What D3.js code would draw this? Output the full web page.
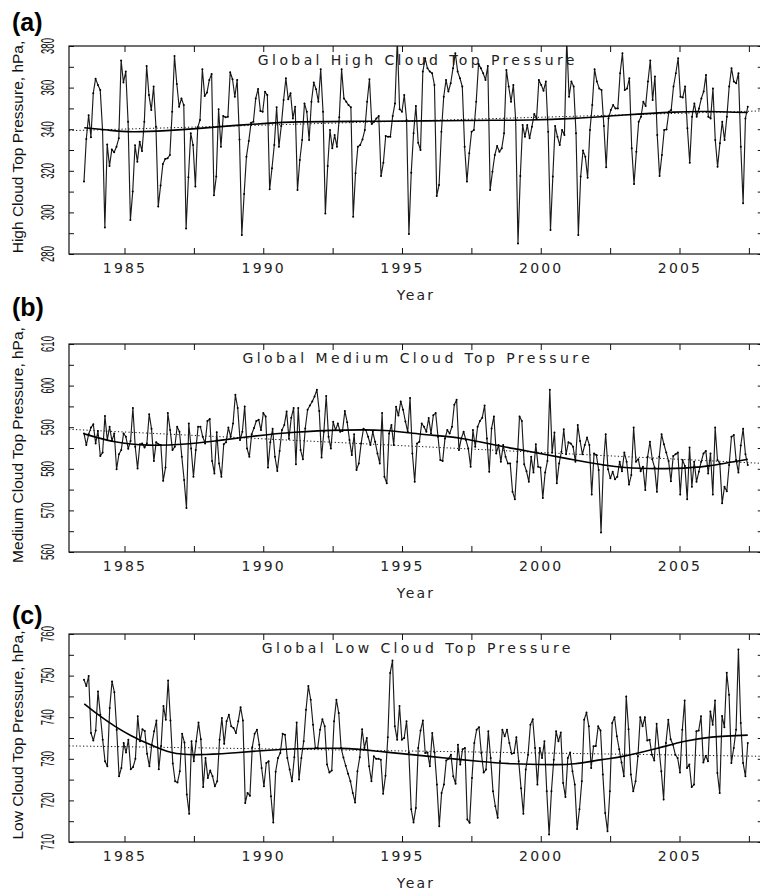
<!DOCTYPE html>
<html>
<head>
<meta charset="utf-8">
<script src="https://cdn.jsdelivr.net/npm/d3@7"></script>
<style>
  body { margin: 0; background: #fff; }
  svg { display: block; }
  .tick line { stroke: #111; stroke-width: 1; }
  .xlab { font-family: "DejaVu Sans", sans-serif; font-size: 14px; letter-spacing: 2.2px; fill: #222; }
  .title { font-family: "DejaVu Sans", sans-serif; font-size: 14px; letter-spacing: 3.4px; fill: #222; }
  .ylab { font-family: "Liberation Sans", Arial, sans-serif; font-size: 15.5px; fill: #111; }
  .ytk { font-family: "Liberation Sans", Arial, sans-serif; font-size: 19px; fill: #111; }
  .panel { font-family: "Liberation Sans", Arial, sans-serif; font-size: 25px; font-weight: bold; fill: #000; }
</style>
</head>
<body>
<script>
// monthly global means, Jul 1983 - Jun 2007
var firstMonth = 1983.54, lastMonth = 2007.46;

var highValues = [
  314.8, 335.3, 346.7, 336.1, 357.3, 364.3, 361.3, 358.9, 339.6, 292.8,
  332.7, 322.3, 330.3, 328.9, 331.6, 335.6, 373.0, 362.5, 367.7, 343.6,
  296.3, 310.0, 332.3, 324.4, 334.0, 329.5, 343.6, 370.4, 356.4, 349.2,
  360.5, 341.2, 302.8, 312.9, 323.3, 325.7, 326.0, 327.6, 348.4, 375.2,
  361.7, 350.8, 354.8, 351.6, 292.3, 316.9, 338.0, 332.4, 312.4, 340.9,
  344.4, 368.8, 356.0, 357.6, 363.7, 366.5, 308.2, 317.2, 349.6, 331.6,
  346.4, 345.7, 346.0, 367.4, 364.0, 355.6, 363.7, 335.1, 289.1, 308.8,
  326.8, 334.3, 343.1, 343.6, 354.8, 359.3, 348.8, 348.4, 358.0, 356.4,
  311.1, 321.2, 332.4, 350.5, 331.6, 341.5, 354.0, 364.5, 354.4, 357.3,
  345.2, 350.8, 310.8,
  325.2, 334.8, 352.4, 348.4, 334.8, 353.2, 362.4, 359.2, 353.2, 368.8,
  348.4, 299.5, 322.3, 339.6, 330.8, 337.2, 331.6, 345.7, 368.8, 354.8,
  353.2, 351.6, 350.5, 297.9, 318.8, 331.6, 332.4, 335.1, 339.6, 353.2,
  364.0, 342.5, 343.6, 345.2, 346.3, 317.5, 323.9, 336.7, 336.4, 336.4,
  346.3, 352.4, 383.0, 349.6, 348.4, 356.4, 344.4, 289.6, 319.1, 338.0,
  351.2, 333.5, 330.0, 367.7, 374.1, 369.3, 367.7, 366.9, 361.3, 307.9,
  313.2, 338.8, 355.6, 363.7, 358.1, 362.1, 369.3, 376.5, 367.7, 364.5,
  360.5, 331.6, 314.8, 328.4, 338.8, 339.6, 353.2, 371.4, 369.3, 366.9,
  363.7, 370.4, 310.8, 319.6, 327.6, 331.9, 329.2, 330.8, 338.0, 368.5,
  360.5, 353.2, 361.3, 344.4, 285.1, 317.5, 342.0, 336.4,
  342.0, 335.6, 341.2, 347.3, 345.2, 363.7, 361.3, 358.5, 362.9, 338.8,
  291.5, 317.2, 341.5, 336.4, 332.4, 339.6, 337.2, 383.0, 355.6, 362.9,
  360.5, 338.0, 289.1, 317.2, 329.7, 326.8, 316.7, 339.6, 351.6, 368.8,
  362.9, 359.6, 358.8, 341.5, 321.7, 345.2, 349.2, 351.6, 350.0, 350.0,
  366.9, 376.5, 358.8, 359.6, 364.5, 330.8, 313.6, 329.2, 343.6, 346.0,
  353.2, 351.2, 362.9, 373.0, 354.0, 365.3, 337.2, 317.5, 327.6, 339.6,
  339.9, 348.4, 349.2, 360.5, 366.9, 374.1, 355.6, 355.3, 360.5, 340.4,
  323.9, 346.0, 352.4, 346.0, 350.0, 354.8, 358.1, 366.1, 346.0, 345.2,
  359.6, 334.8, 322.0, 333.2, 343.6, 334.8, 346.0, 360.5, 369.3, 362.9,
  362.1, 366.9, 331.6, 304.4, 345.2, 350.8
];

var mediumValues = [
  588.5, 585.7, 588.3, 589.9, 590.7, 586.1, 589.1, 583.1, 583.9, 592.7,
  586.9, 590.1, 586.7, 588.5, 579.9, 583.5, 584.5, 588.5, 587.7, 584.8,
  586.7, 594.6, 585.3, 580.1, 585.9, 586.1, 585.1, 586.1, 593.1, 589.6,
  581.9, 586.4, 585.9, 585.7, 577.1, 580.3, 593.4, 589.3, 584.5, 585.3,
  590.1, 588.9, 582.9, 577.3, 570.6, 590.9, 584.9, 578.1, 584.5, 590.1,
  590.1, 587.7, 586.1, 591.5, 592.0, 581.9, 578.9, 588.8, 581.3, 578.1,
  585.9, 586.4, 589.9, 587.7, 590.9, 597.8, 594.6, 586.9, 588.9, 595.0,
  584.9, 582.9, 588.3, 589.8, 591.5, 591.8, 589.3, 593.4, 592.6, 580.3,
  586.4, 589.6, 582.9, 579.5, 584.3, 589.3, 590.5, 593.8, 587.2, 592.3,
  594.6, 581.1, 594.6,
  584.5, 582.3, 589.7, 594.2, 595.2, 596.2, 597.4, 599.0, 593.9, 582.7,
  588.9, 597.5, 587.7, 584.9, 591.3, 589.3, 590.9, 588.9, 589.1, 593.9,
  591.2, 586.9, 583.3, 588.3, 579.7, 581.3, 586.1, 589.6, 589.3, 587.7,
  585.7, 588.9, 586.5, 583.7, 581.3, 593.4, 578.1, 576.5, 588.5, 590.5,
  585.7, 594.9, 592.8, 596.2, 594.2, 591.4, 588.9, 597.0, 583.7, 576.9,
  586.1, 586.5, 590.9, 590.1, 588.9, 592.2, 588.5, 592.9, 593.4, 587.7,
  582.1, 581.9, 587.3, 589.3, 588.5, 590.1, 595.4, 596.6, 584.5, 587.3,
  588.9, 586.9, 584.9, 580.5, 589.3, 585.3, 590.1, 591.5, 592.3, 595.2,
  587.3, 579.3, 589.7, 592.6, 583.7, 585.7, 581.7, 585.7, 582.9, 581.3,
  581.3, 574.5, 572.7, 581.7, 592.6, 591.5, 581.1, 579.4, 576.9,
  582.9, 579.1, 585.9, 580.5, 580.3, 573.0, 579.1, 581.9, 599.0, 583.9,
  588.7, 576.5, 581.3, 584.1, 589.5, 583.5, 586.4, 586.1, 585.3, 581.7,
  590.5, 586.7, 583.5, 585.7, 587.5, 585.7, 573.8, 583.7, 583.3, 579.7,
  564.7, 580.9, 588.3, 579.9, 577.7, 579.3, 577.5, 578.1, 581.7, 579.4,
  583.9, 581.7, 576.2, 578.5, 589.9, 581.7, 582.3, 579.4, 580.5, 574.9,
  582.9, 586.5, 582.3, 580.3, 574.5, 582.9, 588.3, 585.9, 583.9, 581.9,
  577.0, 583.1, 583.5, 583.9, 573.8, 582.1, 580.7, 572.7, 585.1, 575.7,
  581.7, 576.9, 579.3, 581.7, 583.7, 584.3, 578.9, 583.7, 573.8, 589.9,
  582.1, 581.3, 571.7, 575.7, 574.6, 580.9, 587.7, 588.1, 582.1, 579.1,
  585.6, 589.6, 583.5, 580.9
];

var lowValues = [
  749.0, 747.5, 749.9, 736.2, 734.4, 736.8, 746.2, 740.6, 734.6, 729.4,
  728.2, 742.2, 748.6, 746.0, 737.0, 725.8, 727.8, 733.8, 731.5, 734.6,
  727.5, 728.0, 730.0, 740.2, 734.2, 737.1, 736.7, 731.2, 728.2, 733.4,
  736.6, 739.2, 727.5, 733.1, 742.7, 739.4, 748.8, 739.2, 728.9, 724.6,
  724.3, 727.0, 736.0, 733.9, 721.4, 716.8, 734.2, 729.4, 734.2, 738.7,
  734.7, 723.2, 730.2, 725.4, 727.2, 725.8, 723.4, 724.6, 734.6, 739.8,
  733.6, 739.0, 740.6, 737.8, 737.4, 736.2, 739.0, 742.4, 739.2, 719.4,
  721.8, 721.1, 732.8, 736.0, 737.0, 733.4, 727.8, 723.4, 729.0, 729.4,
  721.0, 714.7, 726.9, 730.2, 731.4, 736.0, 735.8, 730.2, 727.4, 724.6,
  730.4, 738.7, 725.0,
  730.2, 734.2, 741.8, 747.5, 744.2, 738.2, 732.6, 732.6, 737.0, 739.5,
  737.8, 728.6, 726.7, 727.2, 739.0, 744.2, 741.0, 732.6, 730.3, 728.3,
  726.4, 724.6, 721.8, 719.5, 727.0, 730.4, 737.1, 732.6, 735.0, 728.2,
  724.6, 730.6, 730.0, 730.0, 729.8, 721.6, 725.9, 735.2, 750.6, 753.6,
  737.8, 734.6, 742.7, 734.6, 735.0, 739.0, 731.5, 717.9, 714.7, 718.2,
  732.6, 736.8, 739.2, 731.4, 731.5, 728.2, 736.2, 731.5, 723.8, 713.8,
  721.8, 723.8, 729.6, 730.0, 731.0, 725.8, 724.0, 733.4, 728.6, 732.3,
  732.6, 715.4, 714.6, 725.4, 733.8, 737.0, 737.6, 731.4, 726.7, 727.4,
  736.6, 730.2, 722.2, 718.6, 715.8, 729.4, 737.0, 735.4, 737.0, 733.8,
  731.2, 731.4, 735.2, 729.4, 722.9, 716.8, 727.4, 731.0, 738.2,
  739.5, 732.6, 723.8, 732.6, 730.2, 734.2, 722.2, 711.8, 722.2, 729.8,
  736.6, 734.2, 736.3, 724.2, 720.8, 730.2, 731.5, 727.0, 723.8, 713.1,
  717.9, 724.6, 739.4, 741.1, 737.8, 727.8, 733.0, 733.1, 737.8, 736.8,
  726.2, 717.0, 712.6, 722.2, 738.6, 740.0, 735.4, 732.3, 729.1, 725.8,
  745.0, 737.1, 726.2, 722.2, 724.6, 730.6, 740.0, 737.8, 740.0, 734.4,
  734.6, 731.0, 729.6, 738.4, 732.6, 727.0, 720.2, 733.8, 739.4, 734.7,
  733.4, 731.0, 730.2, 726.7, 737.0, 744.0, 727.8, 728.6, 723.2, 723.8,
  736.6, 736.8, 740.2, 729.1, 730.7, 729.4, 741.4, 738.2, 744.0, 726.6,
  721.8, 740.3, 737.6, 750.7, 745.4, 729.0, 732.6, 737.0, 756.3, 738.6,
  729.0, 725.8, 733.8
];

// smoothed curves (knot years / values) and linear trends
var highSmoothYears = [1983.55, 1984.4, 1985.3, 1986.5, 1987.7, 1988.9, 1990.1, 1991.3, 1993.5, 1995.9, 1998.3, 1999.6, 2001.2, 2003.0, 2004.8, 2006.0, 2007.46];
var highSmooth = [340.7, 339.6, 338.8, 339.3, 340.4, 341.7, 342.8, 343.5, 343.8, 344.0, 344.3, 344.4, 345.2, 346.8, 348.2, 348.5, 348.0];
var mediumSmoothYears = [1983.55, 1984.66, 1985.86, 1987.06, 1988.26, 1989.46, 1991.14, 1992.95, 1994.39, 1995.71, 1997.15, 1998.35, 1999.5, 2001.23, 2003.04, 2004.84, 2006.04, 2007.46];
var mediumSmooth = [588.4, 586.5, 585.7, 585.9, 586.7, 587.7, 588.8, 589.3, 589.2, 588.3, 587.3, 585.7, 584.3, 582.1, 580.3, 580.1, 580.7, 582.3];
var lowSmoothYears = [1983.55, 1984.05, 1984.66, 1985.26, 1985.86, 1986.7, 1987.67, 1988.86, 1990.07, 1991.2, 1992.82, 1994.14, 1995.35, 1996.55, 1997.75, 1999.0, 2000.4, 2001.23, 2002.2, 2003.04, 2004.24, 2005.2, 2006.16, 2007.46];
var lowSmooth = [743.2, 740.6, 737.8, 735.5, 733.6, 731.5, 731.0, 731.4, 732.0, 732.4, 732.5, 731.8, 731.0, 730.2, 729.4, 728.8, 728.6, 728.8, 729.8, 730.7, 732.6, 734.2, 735.2, 735.7];
var trendYears = [1983, 2008];
var highTrend = [339.3, 348.8];
var mediumTrend = [589.5, 581.3];
var lowTrend = [733.1, 730.6];

var yearTicks = [1985, 1987.5, 1990, 1992.5, 1995, 1997.5, 2000, 2002.5, 2005, 2007.5];
var yearLabels = [1985, 1990, 1995, 2000, 2005];

var width = 760, height = 894;

var svg = d3.select("body").append("svg")
    .attr("width", width)
    .attr("height", height);

var x = d3.scaleLinear().domain([1983, 2008]).range([69, 762.75]);

var panels = [
  { tag: "(a)", tagY: 31, top: 46, bottom: 254, domain: [280, 380], minor: 10, major: 20,
    values: highValues, sy: highSmoothYears, sv: highSmooth, trend: highTrend,
    title: "Global High Cloud Top Pressure", ylabel: "High Cloud Top Pressure, hPa," },
  { tag: "(b)", tagY: 316, top: 344, bottom: 552, domain: [560, 610], minor: 5, major: 10,
    values: mediumValues, sy: mediumSmoothYears, sv: mediumSmooth, trend: mediumTrend,
    title: "Global Medium Cloud Top Pressure", ylabel: "Medium Cloud Top Pressure, hPa," },
  { tag: "(c)", tagY: 624, top: 634, bottom: 842, domain: [710, 760], minor: 5, major: 10,
    values: lowValues, sy: lowSmoothYears, sv: lowSmooth, trend: lowTrend,
    title: "Global Low Cloud Top Pressure", ylabel: "Low Cloud Top Pressure, hPa," }
];

panels.forEach(function(p, k) {
  var y = d3.scaleLinear().domain(p.domain).range([p.bottom, p.top]);
  var n = p.values.length;
  var month = d3.scaleLinear().domain([0, n - 1]).range([firstMonth, lastMonth]);
  var g = svg.append("g");

  g.append("clipPath").attr("id", "clip" + k)
    .append("rect")
      .attr("x", x.range()[0]).attr("y", p.top)
      .attr("width", x.range()[1] - x.range()[0]).attr("height", p.bottom - p.top);

  // panel letter
  g.append("text").attr("class", "panel")
    .attr("x", 12).attr("y", p.tagY).text(p.tag);

  // title inside frame
  g.append("text").attr("class", "title")
    .attr("x", (x.range()[0] + x.range()[1]) / 2 + 2)
    .attr("y", p.top + 19)
    .attr("text-anchor", "middle")
    .text(p.title);

  var minorTicks = d3.range(p.domain[0], p.domain[1] + 0.001, p.minor);

  // axes, ticks pointing inward
  g.append("g").attr("transform", "translate(0," + p.bottom + ")")
    .call(d3.axisBottom(x).tickValues(yearTicks).tickSize(-6).tickPadding(9)
      .tickFormat(function(d) { return yearLabels.indexOf(d) >= 0 ? d : ""; }))
    .call(function(s) {
      s.select(".domain").remove();
      s.selectAll("text").attr("class", "xlab").attr("font-family", null).attr("font-size", null).attr("fill", null);
    });
  g.append("g").attr("transform", "translate(0," + p.top + ")")
    .call(d3.axisTop(x).tickValues(yearTicks).tickSize(-6).tickFormat(""))
    .call(function(s) { s.select(".domain").remove(); });
  g.append("g").attr("transform", "translate(" + x.range()[0] + ",0)")
    .call(d3.axisLeft(y).tickValues(minorTicks).tickSize(-5).tickFormat(""))
    .call(function(s) { s.select(".domain").remove(); });
  g.append("g").attr("transform", "translate(" + x.range()[1] + ",0)")
    .call(d3.axisRight(y).tickValues(minorTicks).tickSize(-5).tickFormat(""))
    .call(function(s) { s.select(".domain").remove(); });

  // rotated, narrow y tick labels
  g.selectAll(".ytk")
    .data(d3.range(p.domain[0], p.domain[1] + 0.001, p.major))
    .enter().append("text")
      .attr("class", "ytk")
      .attr("text-anchor", "middle")
      .attr("transform", function(d) { return "translate(53.5," + y(d) + ") rotate(-90) scale(0.5,1)"; })
      .text(function(d) { return d; });

  g.append("text").attr("class", "ylab")
    .attr("text-anchor", "middle")
    .attr("transform", "translate(23," + ((p.top + p.bottom) / 2 - 3) + ") rotate(-90)")
    .text(p.ylabel);

  g.append("text").attr("class", "xlab")
    .attr("x", 416).attr("y", p.bottom + 46)
    .attr("text-anchor", "middle")
    .text("Year");

  var plot = g.append("g").attr("clip-path", "url(#clip" + k + ")");

  // linear trend (dotted)
  plot.append("path")
    .datum(trendYears.map(function(t, i) { return [t, p.trend[i]]; }))
    .attr("fill", "none").attr("stroke", "#111").attr("stroke-width", 1)
    .attr("stroke-dasharray", "1.2,2.3")
    .attr("d", d3.line().x(function(d) { return x(d[0]); }).y(function(d) { return y(d[1]); }));

  // monthly series
  plot.append("path")
    .datum(p.values)
    .attr("fill", "none").attr("stroke", "#1a1a1a").attr("stroke-width", 1.15)
    .attr("stroke-linejoin", "round")
    .attr("d", d3.line()
      .x(function(d, i) { return x(month(i)); })
      .y(function(d) { return y(d); }));

  plot.selectAll(".pt")
    .data(p.values)
    .enter().append("circle")
      .attr("class", "pt")
      .attr("cx", function(d, i) { return x(month(i)); })
      .attr("cy", function(d) { return y(d); })
      .attr("r", 1)
      .attr("fill", "#000");

  // smoothed curve
  plot.append("path")
    .datum(p.sy.map(function(t, i) { return [t, p.sv[i]]; }))
    .attr("fill", "none").attr("stroke", "#000").attr("stroke-width", 1.6)
    .attr("d", d3.line().curve(d3.curveNatural)
      .x(function(d) { return x(d[0]); }).y(function(d) { return y(d[1]); }));

  // frame
  g.append("rect")
    .attr("x", x.range()[0]).attr("y", p.top)
    .attr("width", x.range()[1] - x.range()[0]).attr("height", p.bottom - p.top)
    .attr("fill", "none").attr("stroke", "#111").attr("stroke-width", 1.2);
});
</script>
</body>
</html>
